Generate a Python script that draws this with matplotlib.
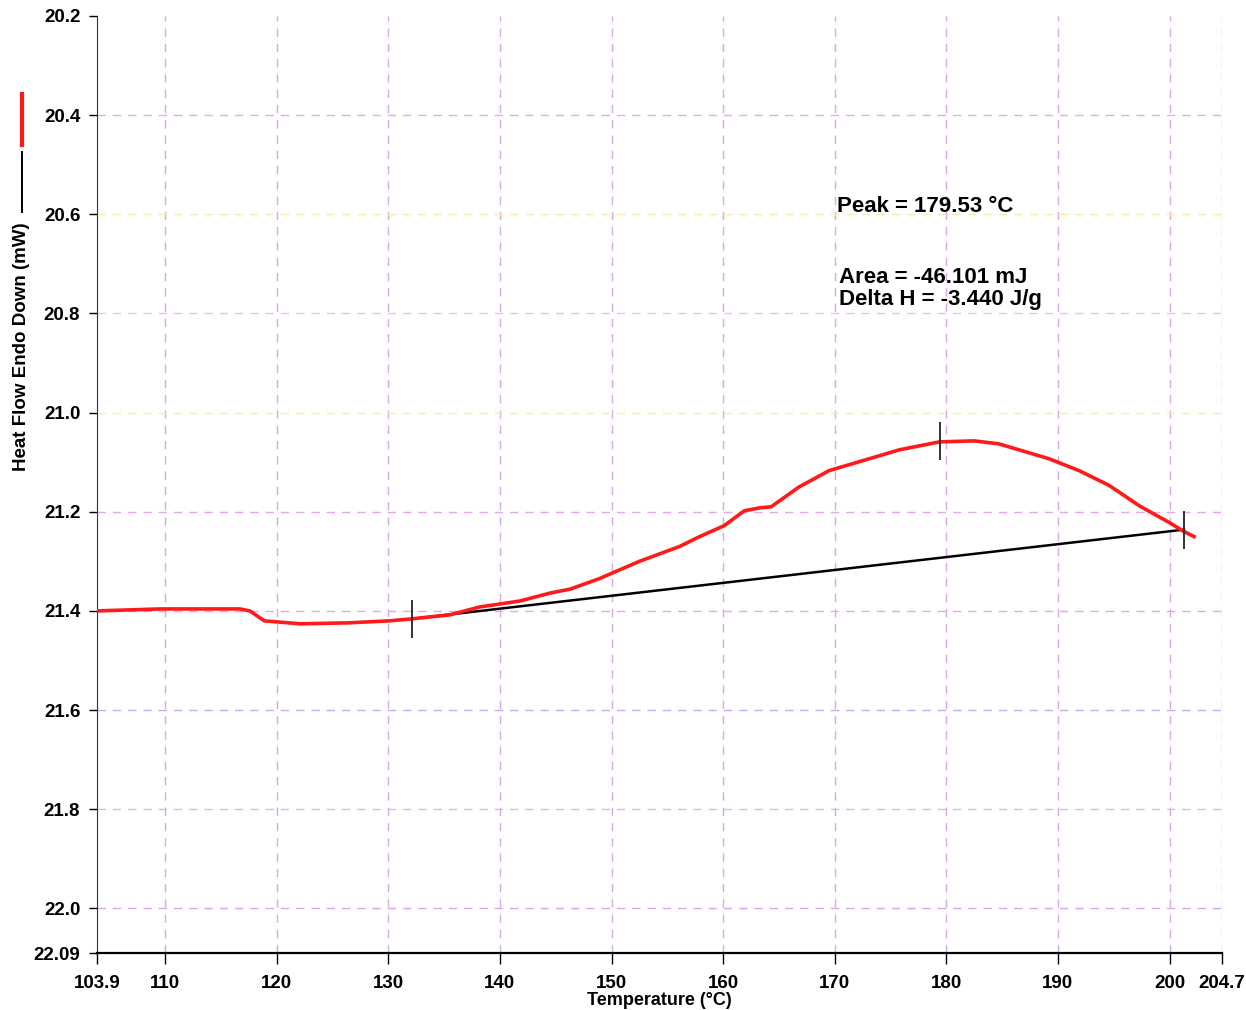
import matplotlib
matplotlib.use("Agg")
import matplotlib.pyplot as plt
from matplotlib.lines import Line2D

plt.rcParams['font.family'] = ['Liberation Sans', 'DejaVu Sans']
plt.rcParams['font.weight'] = 'bold'

# heat flow curve
temp = [103.9, 109.5, 116.7, 117.6, 118.9, 122.1, 126.5, 130.1, 132.1, 135.5,
        138.2, 141.8, 144.5, 146.3, 148.9, 152.5, 156.1, 157.9, 160.1, 161.9,
        163.3, 164.3, 166.8, 169.5, 173.1, 175.8, 179.4, 182.5, 184.7, 189.2,
        191.9, 194.6, 197.3, 200.0, 201.3, 202.2]
heat_flow = [21.400, 21.396, 21.396, 21.400, 21.420, 21.426, 21.424, 21.420, 21.416, 21.408,
             21.392, 21.380, 21.364, 21.356, 21.335, 21.300, 21.270, 21.250, 21.228, 21.198,
             21.192, 21.190, 21.150, 21.117, 21.093, 21.075, 21.059, 21.057, 21.063, 21.093,
             21.117, 21.147, 21.188, 21.222, 21.240, 21.250]

# integration baseline and markers
base_t = [132.1, 201.3]
base_h = [21.416, 21.236]
marker_t = [132.1, 179.4, 201.3]
marker_h = [21.416, 21.058, 21.236]

xticks = [103.9, 110, 120, 130, 140, 150, 160, 170, 180, 190, 200, 204.7]
xtick_labels = ['103.9', '110', '120', '130', '140', '150', '160', '170', '180', '190', '200', '204.7']
yticks = [20.2, 20.4, 20.6, 20.8, 21.0, 21.2, 21.4, 21.6, 21.8, 22.0, 22.09]
ytick_labels = ['20.2', '20.4', '20.6', '20.8', '21.0', '21.2', '21.4', '21.6', '21.8', '22.0', '22.09']
hgrid_colors = ['#e8a8ee', '#f4f0a0', '#ecc0f0', '#f4f0a0', '#e4a8ea', '#e4a8ea',
                '#cca8ec', '#dcb8ea', '#d4a8ea']

fig = plt.figure(figsize=(12.46, 10.10), dpi=100)
ax = fig.add_axes([97 / 1246, 1 - 953 / 1010, (1222 - 97) / 1246, (953 - 16) / 1010])

ax.set_xlim(103.9, 204.7)
ax.set_ylim(22.09, 20.2)

for t in xticks[1:]:
    ax.axvline(t, color='#d8a8e6', lw=1.0, ls=(0, (6, 5)), zorder=1)
for h, c in zip(yticks[1:-1], hgrid_colors):
    ax.axhline(h, color=c, lw=1.0, ls=(0, (6, 5)), zorder=1)

ax.plot(base_t, base_h, color='black', lw=1.8, zorder=3)
ax.plot(temp, heat_flow, color='#ff1a1a', lw=2.6, zorder=4)
ax.plot(marker_t, marker_h, ls='none', marker='|', markersize=28, mew=1.4, color='#333333', zorder=5)

ax.set_xticks(xticks)
ax.set_xticklabels(xtick_labels, fontsize=13.5, fontweight='bold')
ax.set_yticks(yticks)
ax.set_yticklabels(ytick_labels, fontsize=13.5, fontweight='bold')
ax.tick_params(axis='x', direction='out', length=8, width=1, pad=8)
ax.tick_params(axis='y', direction='out', length=6, width=1, pad=6)

for s in ['top', 'right']:
    ax.spines[s].set_visible(False)
ax.spines['left'].set_color('#333333')
ax.spines['bottom'].set_color('black')
ax.spines['bottom'].set_linewidth(1.6)

ax.text(170.2, 20.585, 'Peak = 179.53 \u00b0C', fontsize=16, fontweight='bold', va='center')
ax.text(170.4, 20.727, 'Area = -46.101 mJ', fontsize=16, fontweight='bold', va='center')
ax.text(170.4, 20.771, 'Delta H = -3.440 J/g', fontsize=16, fontweight='bold', va='center')

ax.set_xlabel('Temperature (\u00b0C)', fontsize=13, fontweight='bold', labelpad=0)
fig.text(22 / 1246, 1 - 347 / 1010, 'Heat Flow Endo Down (mW)', rotation=90,
         fontsize=13.5, fontweight='bold', ha='center', va='center')
# legend swatches beside the y label
fig.add_artist(Line2D([22 / 1246, 22 / 1246], [1 - 212 / 1010, 1 - 152 / 1010], color='black', lw=1.4))
fig.add_artist(Line2D([22 / 1246, 22 / 1246], [1 - 145 / 1010, 1 - 94 / 1010], color='#ff1a1a', lw=3))

fig.savefig('out.png', dpi=100)
